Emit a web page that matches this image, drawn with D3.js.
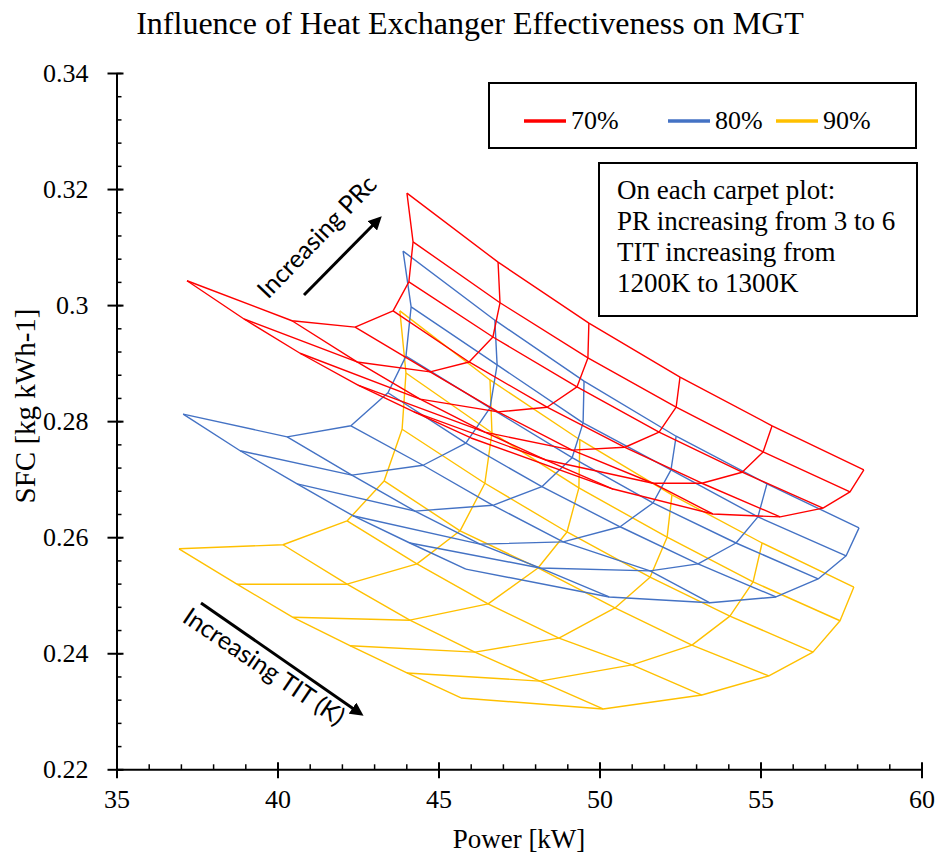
<!DOCTYPE html>
<html>
<head>
<meta charset="utf-8">
<script src="https://cdn.jsdelivr.net/npm/d3@7"></script>
<style>
  body { margin: 0; background: #fff; }
  svg { display: block; }
</style>
</head>
<body>
<svg id="chart" width="939" height="855"></svg>
<script>
// carpet grid: rows = compressor pressure ratio, columns = turbine inlet temperature
const prValues = [3, 3.5, 4, 4.5, 5, 5.5, 6];
const titValues = [1200, 1220, 1240, 1260, 1280, 1300];

// 70 % effectiveness
const power70 = [
  [37.19, 38.96, 40.70, 42.50, 44.24, 46.01],
  [40.45, 42.47, 44.43, 46.44, 48.34, 50.42],
  [42.41, 44.74, 46.85, 49.15, 51.66, 53.52],
  [43.59, 45.95, 48.37, 50.79, 53.18, 55.61],
  [44.08, 46.69, 49.30, 51.85, 54.43, 56.94],
  [44.21, 46.91, 49.64, 52.38, 55.08, 57.78],
  [44.02, 46.85, 49.67, 52.50, 55.36, 58.21],
];
const sfc70 = [
  [0.3042, 0.2976, 0.2917, 0.2862, 0.2816, 0.2771],
  [0.2973, 0.2902, 0.2838, 0.2781, 0.2733, 0.2683],
  [0.2962, 0.2885, 0.2816, 0.2750, 0.2693, 0.2640],
  [0.2990, 0.2902, 0.2824, 0.2755, 0.2693, 0.2635],
  [0.3040, 0.2945, 0.2859, 0.2781, 0.2712, 0.2650],
  [0.3109, 0.3004, 0.2909, 0.2824, 0.2747, 0.2678],
  [0.3193, 0.3074, 0.2969, 0.2876, 0.2792, 0.2716],
];

// 80 % effectiveness
const power80 = [
  [37.07, 38.84, 40.61, 42.34, 44.11, 45.85],
  [40.30, 42.31, 44.27, 46.29, 48.15, 50.30],
  [42.28, 44.52, 46.69, 48.87, 51.57, 53.43],
  [43.43, 45.85, 48.21, 50.64, 53.06, 55.48],
  [43.99, 46.60, 49.15, 51.66, 54.24, 56.79],
  [44.15, 46.82, 49.49, 52.22, 54.92, 57.66],
  [43.90, 46.75, 49.52, 52.38, 55.20, 58.06],
];
const sfc80 = [
  [0.2812, 0.2749, 0.2692, 0.2637, 0.2590, 0.2545],
  [0.2773, 0.2707, 0.2645, 0.2588, 0.2547, 0.2497],
  [0.2792, 0.2724, 0.2655, 0.2592, 0.2542, 0.2487],
  [0.2849, 0.2762, 0.2687, 0.2618, 0.2554, 0.2497],
  [0.2912, 0.2823, 0.2737, 0.2659, 0.2590, 0.2528],
  [0.2997, 0.2897, 0.2797, 0.2716, 0.2635, 0.2568],
  [0.3093, 0.2974, 0.2869, 0.2774, 0.2692, 0.2616],
];

// 90 % effectiveness
const power90 = [
  [36.94, 38.74, 40.48, 42.25, 44.02, 45.70],
  [40.17, 42.16, 44.11, 46.13, 48.15, 50.11],
  [42.16, 44.33, 46.54, 48.74, 51.01, 53.18],
  [43.31, 45.67, 48.09, 50.48, 52.87, 55.26],
  [43.87, 46.44, 48.99, 51.57, 54.05, 56.63],
  [43.99, 46.66, 49.36, 52.10, 54.77, 57.47],
  [43.80, 46.60, 49.39, 52.25, 55.05, 57.90],
];
const sfc90 = [
  [0.2580, 0.2519, 0.2462, 0.2413, 0.2366, 0.2323],
  [0.2587, 0.2519, 0.2457, 0.2402, 0.2352, 0.2304],
  [0.2628, 0.2554, 0.2485, 0.2426, 0.2380, 0.2328],
  [0.2697, 0.2611, 0.2547, 0.2478, 0.2414, 0.2361],
  [0.2786, 0.2693, 0.2609, 0.2531, 0.2464, 0.2402],
  [0.2883, 0.2780, 0.2685, 0.2600, 0.2523, 0.2456],
  [0.2990, 0.2871, 0.2768, 0.2673, 0.2590, 0.2514],
];

const seriesNames = ["70%", "80%", "90%"];
const seriesColors = ["#ff0000", "#4472c4", "#ffc000"];
const xMajorTicks = [35, 40, 45, 50, 55, 60];
const yMajorTicks = [0.22, 0.24, 0.26, 0.28, 0.3, 0.32, 0.34];
const noteLines = [
  "On each carpet plot:",
  "PR increasing from 3 to 6",
  "TIT increasing from",
  "1200K to 1300K",
];

const carpets = [
  { name: seriesNames[0], color: seriesColors[0], power: power70, sfc: sfc70 },
  { name: seriesNames[1], color: seriesColors[1], power: power80, sfc: sfc80 },
  { name: seriesNames[2], color: seriesColors[2], power: power90, sfc: sfc90 },
];

const serif = "'Liberation Serif', 'Times New Roman', serif";
const sans = "Lato, 'Open Sans', sans-serif";

const svg = d3.select("#chart");
const plot = { left: 116.5, right: 921.5, top: 73, bottom: 769.3 };

const x = d3.scaleLinear().domain([35, 60]).range([plot.left, plot.right]);
const y = d3.scaleLinear().domain([0.22, 0.34]).range([plot.bottom, plot.top]);

// title
svg
  .append("text")
  .attr("x", 470)
  .attr("y", 34)
  .attr("text-anchor", "middle")
  .attr("font-family", serif)
  .attr("font-size", 32)
  .text("Influence of Heat Exchanger Effectiveness on MGT");

// carpets, drawn 90 % first so red sits on top
const line = d3
  .line()
  .x((d) => x(d[0]))
  .y((d) => y(d[1]));

const carpetLayer = svg.append("g");
for (const carpet of carpets.slice().reverse()) {
  const rows = prValues.map((pr, i) =>
    titValues.map((tit, j) => [carpet.power[i][j], carpet.sfc[i][j]])
  );
  const cols = titValues.map((tit, j) =>
    prValues.map((pr, i) => [carpet.power[i][j], carpet.sfc[i][j]])
  );
  carpetLayer
    .append("g")
    .selectAll("path")
    .data(rows.concat(cols))
    .join("path")
    .attr("fill", "none")
    .attr("stroke", carpet.color)
    .attr("stroke-width", 1.4)
    .attr("stroke-linejoin", "round")
    .attr("d", line);
}

// axes
const xMinor = d3.range(35, 60.01, 1);
const yMinor = d3.range(0, 31).map((i) => 0.22 + i * 0.004);

svg
  .append("g")
  .attr("transform", `translate(0,${plot.bottom})`)
  .call(d3.axisBottom(x).tickValues(xMinor).tickSize(-5).tickSizeOuter(0).tickFormat(""))
  .call((g) => g.select(".domain").remove())
  .selectAll("line")
  .attr("stroke-width", 1.5);

svg
  .append("g")
  .attr("transform", `translate(${plot.left},0)`)
  .call(d3.axisLeft(y).tickValues(yMinor).tickSize(-5).tickSizeOuter(0).tickFormat(""))
  .call((g) => g.select(".domain").remove())
  .selectAll("line")
  .attr("stroke-width", 1.5);

const xAxis = svg
  .append("g")
  .attr("transform", `translate(0,${plot.bottom})`)
  .call(d3.axisBottom(x).tickValues(xMajorTicks).tickSizeOuter(0).tickPadding(14).tickFormat(d3.format("d")));
xAxis.select(".domain").attr("stroke-width", 2);
xAxis.selectAll(".tick line").attr("y1", -7).attr("y2", 9).attr("stroke-width", 2);
xAxis
  .selectAll(".tick text")
  .style("font-family", serif)
  .style("font-size", "26px")
  .attr("fill", "#000");

const yAxis = svg
  .append("g")
  .attr("transform", `translate(${plot.left},0)`)
  .call(d3.axisLeft(y).tickValues(yMajorTicks).tickSizeOuter(0).tickPadding(22).tickFormat((d) => String(+d.toFixed(2))));
yAxis.select(".domain").attr("stroke-width", 2);
yAxis.selectAll(".tick line").attr("x1", 7).attr("x2", -9).attr("stroke-width", 2);
yAxis
  .selectAll(".tick text")
  .style("font-family", serif)
  .style("font-size", "26px")
  .attr("fill", "#000");

// axis titles
svg
  .append("text")
  .attr("x", 519)
  .attr("y", 848)
  .attr("text-anchor", "middle")
  .style("font-family", serif)
  .style("font-size", "27px")
  .text("Power [kW]");

svg
  .append("text")
  .attr("transform", "translate(35,406) rotate(-90)")
  .attr("text-anchor", "middle")
  .style("font-family", serif)
  .style("font-size", "29px")
  .text("SFC [kg kWh-1]");

// legend
const legend = svg.append("g");
legend
  .append("rect")
  .attr("x", 489)
  .attr("y", 83)
  .attr("width", 427)
  .attr("height", 65)
  .attr("fill", "#fff")
  .attr("stroke", "#000")
  .attr("stroke-width", 2);

const legendX = [524, 668, 776];
carpets.forEach((carpet, i) => {
  legend
    .append("line")
    .attr("x1", legendX[i])
    .attr("x2", legendX[i] + 42)
    .attr("y1", 121)
    .attr("y2", 121)
    .attr("stroke", carpet.color)
    .attr("stroke-width", 3.5);
  legend
    .append("text")
    .attr("x", legendX[i] + 47)
    .attr("y", 129)
    .style("font-family", serif)
    .style("font-size", "26px")
    .text(carpet.name);
});

// note box
svg
  .append("rect")
  .attr("x", 599)
  .attr("y", 163)
  .attr("width", 318)
  .attr("height", 153)
  .attr("fill", "#fff")
  .attr("stroke", "#000")
  .attr("stroke-width", 2);

svg
  .append("g")
  .selectAll("text")
  .data(noteLines)
  .join("text")
  .attr("x", 617)
  .attr("y", (d, i) => 199 + i * 31)
  .style("font-family", serif)
  .style("font-size", "27px")
  .text((d) => d);

// direction arrows
svg
  .append("defs")
  .append("marker")
  .attr("id", "head")
  .attr("viewBox", "0 0 10 10")
  .attr("refX", 5)
  .attr("refY", 5)
  .attr("markerWidth", 4.5)
  .attr("markerHeight", 4.5)
  .attr("orient", "auto")
  .append("path")
  .attr("d", "M0,0 L10,5 L0,10 z")
  .attr("fill", "#000");

svg
  .append("line")
  .attr("x1", 304)
  .attr("y1", 295)
  .attr("x2", 377)
  .attr("y2", 221)
  .attr("stroke", "#000")
  .attr("stroke-width", 3)
  .attr("marker-end", "url(#head)");

svg
  .append("text")
  .attr("transform", "translate(268,300) rotate(-46)")
  .style("font-family", sans)
  .style("font-size", "25px")
  .text("Increasing  PRc");

svg
  .append("line")
  .attr("x1", 201)
  .attr("y1", 603)
  .attr("x2", 358)
  .attr("y2", 712)
  .attr("stroke", "#000")
  .attr("stroke-width", 3)
  .attr("marker-end", "url(#head)");

svg
  .append("text")
  .attr("transform", "translate(181,621) rotate(34)")
  .style("font-family", sans)
  .style("font-size", "25px")
  .text("Increasing TIT (K)");
</script>
</body>
</html>
